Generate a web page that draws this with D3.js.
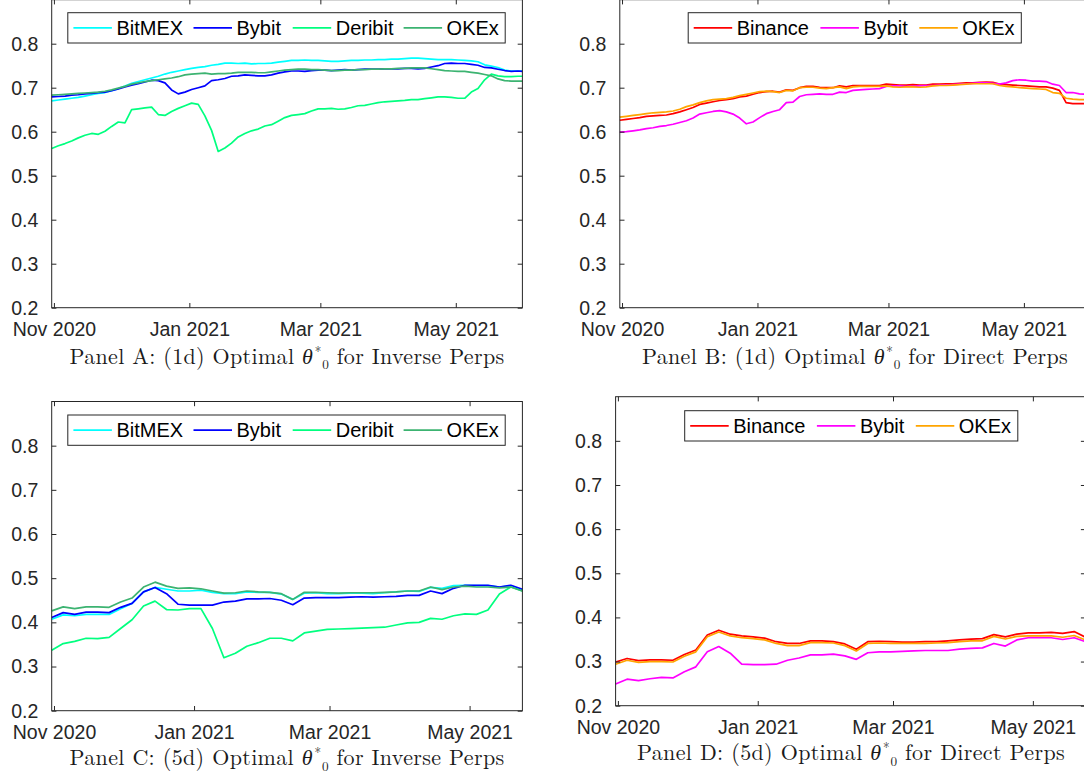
<!DOCTYPE html>
<html><head><meta charset="utf-8">
<script src="https://cdn.jsdelivr.net/npm/d3@7"></script>
<style>body{margin:0;background:#fff;} svg{display:block;}</style>
</head><body>
<svg id="chart" width="1084" height="774"></svg>
<script>
// ---------------- DATA ----------------
// Panels A/B: daily estimates, sampled every 3 days from 2020-10-31 (last point 2021-05-31)
const startDate = "2020-10-31";
const daysAB = d3.range(0, 211, 3).concat([212]);
// Panels C/D: 5-day estimates from 2020-10-31 to 2021-05-24
const daysCD = d3.range(0, 206, 5);

const seriesNamesInverse = ["BitMEX", "Bybit", "Deribit", "OKEx"];
const seriesNamesDirect = ["Binance", "Bybit", "OKEx"];
const yTicks = [0.2, 0.3, 0.4, 0.5, 0.6, 0.7, 0.8];
const xTicks = ["2020-11-01", "2021-01-01", "2021-03-01", "2021-05-01"];

const A_BitMEX = [0.670,0.672,0.674,0.676,0.678,0.681,0.684,0.687,0.689,0.693,
  0.698,0.704,0.710,0.714,0.718,0.722,0.726,0.731,0.735,0.738,
  0.741,0.744,0.746,0.748,0.751,0.753,0.756,0.756,0.755,0.756,
  0.754,0.755,0.755,0.756,0.758,0.760,0.762,0.762,0.763,0.762,
  0.762,0.761,0.760,0.760,0.761,0.762,0.762,0.763,0.763,0.764,
  0.764,0.765,0.765,0.766,0.767,0.767,0.766,0.765,0.764,0.764,
  0.764,0.763,0.762,0.761,0.759,0.752,0.749,0.746,0.740,0.738,
  0.738,0.738];
const A_Bybit = [0.679,0.680,0.681,0.683,0.684,0.686,0.687,0.689,0.690,0.693,
  0.697,0.702,0.706,0.709,0.713,0.717,0.716,0.711,0.695,0.686,
  0.690,0.696,0.700,0.704,0.716,0.718,0.721,0.726,0.727,0.729,
  0.728,0.727,0.727,0.729,0.733,0.736,0.738,0.738,0.737,0.739,
  0.740,0.740,0.739,0.740,0.741,0.740,0.741,0.742,0.742,0.742,
  0.743,0.743,0.743,0.744,0.744,0.743,0.744,0.747,0.750,0.755,
  0.756,0.755,0.755,0.753,0.751,0.746,0.745,0.742,0.739,0.737,
  0.738,0.737];
const A_Deribit = [0.562,0.568,0.573,0.579,0.586,0.592,0.596,0.594,0.601,0.612,
  0.622,0.620,0.650,0.652,0.654,0.656,0.639,0.637,0.646,0.653,
  0.659,0.665,0.662,0.636,0.603,0.555,0.563,0.574,0.588,0.596,
  0.602,0.606,0.613,0.616,0.624,0.632,0.637,0.639,0.641,0.647,
  0.652,0.652,0.653,0.651,0.652,0.655,0.659,0.660,0.663,0.666,
  0.668,0.669,0.670,0.671,0.673,0.673,0.675,0.677,0.679,0.679,
  0.678,0.676,0.676,0.690,0.698,0.718,0.731,0.727,0.725,0.725,
  0.726,0.726];
const A_OKEx = [0.683,0.684,0.685,0.686,0.687,0.688,0.689,0.690,0.692,0.695,
  0.699,0.703,0.708,0.711,0.714,0.716,0.718,0.720,0.722,0.725,
  0.729,0.731,0.732,0.733,0.731,0.732,0.732,0.733,0.735,0.735,
  0.735,0.734,0.734,0.736,0.738,0.740,0.741,0.742,0.742,0.741,
  0.741,0.740,0.739,0.739,0.740,0.740,0.741,0.741,0.742,0.742,
  0.743,0.743,0.744,0.744,0.745,0.745,0.745,0.743,0.741,0.739,
  0.738,0.737,0.737,0.735,0.733,0.730,0.727,0.720,0.716,0.715,
  0.715,0.715];

const B_Binance = [0.626,0.628,0.630,0.632,0.635,0.636,0.637,0.638,0.641,0.645,
  0.650,0.655,0.662,0.665,0.668,0.671,0.673,0.675,0.679,0.681,
  0.685,0.689,0.691,0.692,0.690,0.695,0.694,0.700,0.703,0.703,
  0.701,0.700,0.700,0.704,0.702,0.705,0.705,0.705,0.705,0.705,
  0.708,0.707,0.706,0.706,0.707,0.706,0.706,0.708,0.708,0.709,
  0.709,0.710,0.711,0.711,0.712,0.713,0.712,0.708,0.707,0.706,
  0.705,0.704,0.703,0.702,0.702,0.699,0.694,0.666,0.664,0.664,
  0.664,0.664];
const B_Bybit = [0.599,0.600,0.602,0.604,0.607,0.609,0.612,0.614,0.617,0.621,
  0.625,0.631,0.640,0.643,0.646,0.648,0.645,0.640,0.631,0.618,
  0.622,0.632,0.641,0.646,0.650,0.666,0.667,0.680,0.684,0.685,
  0.686,0.685,0.685,0.690,0.689,0.694,0.695,0.696,0.697,0.698,
  0.703,0.704,0.704,0.703,0.703,0.704,0.705,0.705,0.706,0.706,
  0.707,0.708,0.709,0.710,0.711,0.711,0.710,0.708,0.711,0.716,
  0.718,0.717,0.715,0.715,0.714,0.708,0.705,0.689,0.689,0.686,
  0.685,0.685];
const B_OKEx = [0.633,0.635,0.637,0.639,0.641,0.643,0.644,0.645,0.647,0.651,
  0.657,0.661,0.666,0.670,0.673,0.674,0.675,0.678,0.682,0.685,
  0.688,0.691,0.692,0.691,0.689,0.694,0.693,0.700,0.701,0.701,
  0.699,0.698,0.700,0.702,0.698,0.702,0.703,0.703,0.703,0.703,
  0.704,0.702,0.701,0.702,0.702,0.701,0.702,0.704,0.705,0.705,
  0.706,0.707,0.708,0.709,0.709,0.709,0.709,0.705,0.703,0.702,
  0.700,0.699,0.698,0.697,0.696,0.689,0.687,0.676,0.674,0.673,
  0.673,0.673];

const C_BitMEX = [0.407,0.417,0.415,0.418,0.418,0.418,0.431,0.443,0.469,0.479,
  0.475,0.471,0.471,0.473,0.468,0.465,0.465,0.469,0.468,0.468,
  0.464,0.452,0.466,0.467,0.465,0.465,0.466,0.466,0.465,0.467,
  0.469,0.471,0.470,0.479,0.477,0.483,0.484,0.483,0.483,0.480,
  0.483,0.473];
const C_Bybit = [0.411,0.422,0.418,0.423,0.423,0.422,0.434,0.443,0.469,0.479,
  0.465,0.441,0.439,0.439,0.439,0.446,0.448,0.453,0.453,0.454,
  0.450,0.440,0.455,0.456,0.456,0.456,0.457,0.458,0.457,0.458,
  0.459,0.461,0.461,0.471,0.465,0.477,0.484,0.484,0.484,0.480,
  0.484,0.475];
const C_Deribit = [0.337,0.352,0.357,0.364,0.363,0.366,0.386,0.406,0.437,0.448,
  0.429,0.428,0.431,0.431,0.386,0.320,0.330,0.346,0.354,0.364,
  0.364,0.358,0.376,0.380,0.384,0.385,0.386,0.387,0.388,0.389,
  0.394,0.399,0.400,0.409,0.407,0.415,0.419,0.418,0.428,0.464,
  0.480,0.471];
const C_OKEx = [0.426,0.435,0.431,0.435,0.435,0.434,0.446,0.455,0.480,0.491,
  0.482,0.477,0.478,0.476,0.471,0.466,0.467,0.471,0.469,0.468,
  0.465,0.452,0.468,0.468,0.467,0.466,0.467,0.467,0.467,0.468,
  0.469,0.471,0.471,0.480,0.474,0.480,0.482,0.480,0.480,0.478,
  0.480,0.471];

const D_Binance = [0.299,0.307,0.302,0.304,0.304,0.303,0.316,0.326,0.360,0.371,
  0.362,0.358,0.356,0.353,0.345,0.341,0.341,0.347,0.347,0.345,
  0.340,0.328,0.345,0.346,0.345,0.344,0.344,0.345,0.345,0.347,
  0.349,0.351,0.352,0.361,0.356,0.362,0.365,0.365,0.366,0.364,
  0.368,0.355];
const D_Bybit = [0.249,0.260,0.257,0.261,0.264,0.263,0.277,0.288,0.322,0.334,
  0.319,0.294,0.293,0.293,0.294,0.303,0.308,0.315,0.315,0.317,
  0.313,0.305,0.320,0.322,0.322,0.323,0.324,0.325,0.325,0.325,
  0.328,0.330,0.331,0.341,0.335,0.349,0.354,0.354,0.354,0.350,
  0.354,0.345];
const D_OKEx = [0.294,0.303,0.298,0.300,0.300,0.299,0.312,0.322,0.356,0.367,
  0.358,0.354,0.352,0.349,0.341,0.336,0.336,0.343,0.343,0.342,
  0.336,0.324,0.341,0.342,0.341,0.341,0.341,0.341,0.342,0.343,
  0.345,0.347,0.347,0.357,0.351,0.357,0.358,0.358,0.358,0.355,
  0.359,0.349];

const colorsInverse = {BitMEX:"#00ffff", Bybit:"#0000ff", Deribit:"#00ff7f", OKEx:"#3cb371"};
const colorsDirect = {Binance:"#ff0000", Bybit:"#ff00ff", OKEx:"#ffa500"};

const titleParts = [
  ["Panel A: (1d) Optimal ", " for Inverse Perps"],
  ["Panel B: (1d) Optimal ", " for Direct Perps"],
  ["Panel C: (5d) Optimal ", " for Inverse Perps"],
  ["Panel D: (5d) Optimal ", " for Direct Perps"]
];

// ---------------- LAYOUT ----------------
const parse = d3.utcParse("%Y-%m-%d");
const start = parse(startDate);
const datesAB = daysAB.map(d => d3.utcDay.offset(start, d));
const datesCD = daysCD.map(d => d3.utcDay.offset(start, d));

const panels = [
  {dates: datesAB, end: "2021-05-31", names: seriesNamesInverse, colors: colorsInverse,
   values: [A_BitMEX, A_Bybit, A_Deribit, A_OKEx],
   left: 51.7, right: 522.4, top: -0.3, bottom: 307.7,
   legend: {x: 67.8, y: 12.7, w: 437.4, h: 30.3, items: [5.6, 125.7, 224.9, 335.8]},
   title: {cx: 287, y: 363.5, w: 433}},
  {dates: datesAB, end: "2021-05-31", names: seriesNamesDirect, colors: colorsDirect,
   values: [B_Binance, B_Bybit, B_OKEx],
   left: 619.8, right: 1090.5, top: -0.3, bottom: 307.7,
   legend: {x: 688.2, y: 12.7, w: 333.1, h: 30.3, items: [5.5, 132.2, 231.1]},
   title: {cx: 855, y: 363.5, w: 424}},
  {dates: datesCD, end: "2021-05-24", names: seriesNamesInverse, colors: colorsInverse,
   values: [C_BitMEX, C_Bybit, C_Deribit, C_OKEx],
   left: 51.7, right: 522.4, top: 401.5, bottom: 710.7,
   legend: {x: 67.8, y: 415, w: 437.4, h: 30.3, items: [5.6, 125.7, 224.9, 335.8]},
   title: {cx: 287, y: 765, w: 433}},
  {dates: datesCD, end: "2021-05-24", names: seriesNamesDirect, colors: colorsDirect,
   values: [D_Binance, D_Bybit, D_OKEx],
   left: 615.6, right: 1085.6, top: 396.7, bottom: 705.7,
   legend: {x: 684.7, y: 410.7, w: 333.1, h: 30.3, items: [5.5, 132.2, 231.1]},
   title: {cx: 851, y: 760, w: 426}}
];

const svg = d3.select("#chart");
const axisColor = "#262626";
const sansFont = "'Liberation Sans', Arial, Helvetica, sans-serif";
const serifFont = "'Latin Modern Roman','CMU Serif','Liberation Serif','Times New Roman',serif";
const tickLen = 4.7;
const tickFont = "19.5px";
const fmtY = d3.format(".1f");
const fmtX = d3.utcFormat("%b %Y");

panels.forEach((p, pi) => {
  const g = svg.append("g");
  const x = d3.scaleUtc().domain([start, parse(p.end)]).range([p.left, p.right]);
  const y = d3.scaleLinear().domain([0.2, 0.9]).range([p.bottom, p.top]);

  // data lines
  const line = d3.line().x(d => x(d[0])).y(d => y(d[1]));
  p.names.forEach((name, si) => {
    const vals = p.values[si];
    const pts = p.dates.slice(0, vals.length).map((dt, i) => [dt, vals[i]]);
    g.append("path").datum(pts)
      .attr("d", line).attr("fill", "none")
      .attr("stroke", p.colors[name]).attr("stroke-width", 1.7)
      .attr("stroke-linejoin", "round");
  });

  // axes, ticks inward, mirrored (box on)
  const xt = xTicks.map(parse);
  const bottomAxis = d3.axisBottom(x).tickValues(xt).tickFormat(fmtX).tickSizeInner(-tickLen).tickSizeOuter(0);
  const topAxis = d3.axisTop(x).tickValues(xt).tickFormat("").tickSizeInner(-tickLen).tickSizeOuter(0);
  const leftAxis = d3.axisLeft(y).tickValues(yTicks).tickFormat(fmtY).tickSizeInner(-tickLen).tickSizeOuter(0).tickPadding(tickLen + 8.7);
  const rightAxis = d3.axisRight(y).tickValues(yTicks).tickFormat("").tickSizeInner(-tickLen).tickSizeOuter(0);

  const gb = g.append("g").attr("transform", `translate(0,${p.bottom})`).call(bottomAxis);
  const gt = g.append("g").attr("transform", `translate(0,${p.top})`).call(topAxis);
  const gl = g.append("g").attr("transform", `translate(${p.left},0)`).call(leftAxis);
  const gr = g.append("g").attr("transform", `translate(${p.right},0)`).call(rightAxis);
  [gb, gt, gl, gr].forEach(a => {
    a.select(".domain").remove();
    a.selectAll(".tick line").attr("stroke", axisColor).attr("stroke-width", 1);
    a.selectAll(".tick text").attr("fill", axisColor)
      .style("font-family", sansFont).style("font-size", tickFont);
  });
  gt.selectAll(".tick text").remove();
  gr.selectAll(".tick text").remove();
  gb.selectAll(".tick text").attr("dy", null).attr("y", 28.5);
  gl.selectAll(".tick text").attr("dy", "0.33em");

  // box
  g.append("rect").attr("x", p.left).attr("y", p.top)
    .attr("width", p.right - p.left).attr("height", p.bottom - p.top)
    .attr("fill", "none").attr("stroke", axisColor).attr("stroke-width", 1);

  // legend
  const L = p.legend;
  const lg = g.append("g").attr("transform", `translate(${L.x},${L.y})`);
  lg.append("rect").attr("width", L.w).attr("height", L.h)
    .attr("fill", "#fff").attr("stroke", axisColor).attr("stroke-width", 1);
  p.names.forEach((name, i) => {
    const ox = L.items[i];
    lg.append("line").attr("x1", ox).attr("x2", ox + 38.5)
      .attr("y1", L.h / 2).attr("y2", L.h / 2)
      .attr("stroke", p.colors[name]).attr("stroke-width", 1.7);
    lg.append("text").attr("x", ox + 43).attr("y", L.h / 2).attr("dy", "0.36em")
      .attr("fill", "#000").style("font-family", sansFont).style("font-size", "20px")
      .text(name);
  });

  // title: one text element; theta with raised * and lowered 0
  const T = p.title;
  const F = 22;
  const s = 0.6 * F;
  const t = svg.append("text").attr("x", T.cx).attr("y", T.y)
    .attr("text-anchor", "middle").attr("fill", "#1a1a1a")
    .style("font-family", serifFont).style("font-size", F + "px");
  t.append("tspan").text(titleParts[pi][0]);
  t.append("tspan").style("font-style", "italic").text("θ");
  t.append("tspan").style("font-size", s + "px").attr("dx", 1.5).attr("dy", -0.36 * F).text("*");
  t.append("tspan").style("font-size", s + "px").attr("dx", 0.5).attr("dy", 0.62 * F).text("0");
  t.append("tspan").attr("dy", -0.26 * F).text(titleParts[pi][1]);
  // stretch spacing slightly to match the reference title width
  const w = t.node().getComputedTextLength();
  const n = t.text().length;
  if (w > 0 && n > 1) {
    const ls = Math.max(-0.5, Math.min(1.5, (T.w - w) / n));
    t.style("letter-spacing", ls + "px");
  }
});
</script>
</body></html>
